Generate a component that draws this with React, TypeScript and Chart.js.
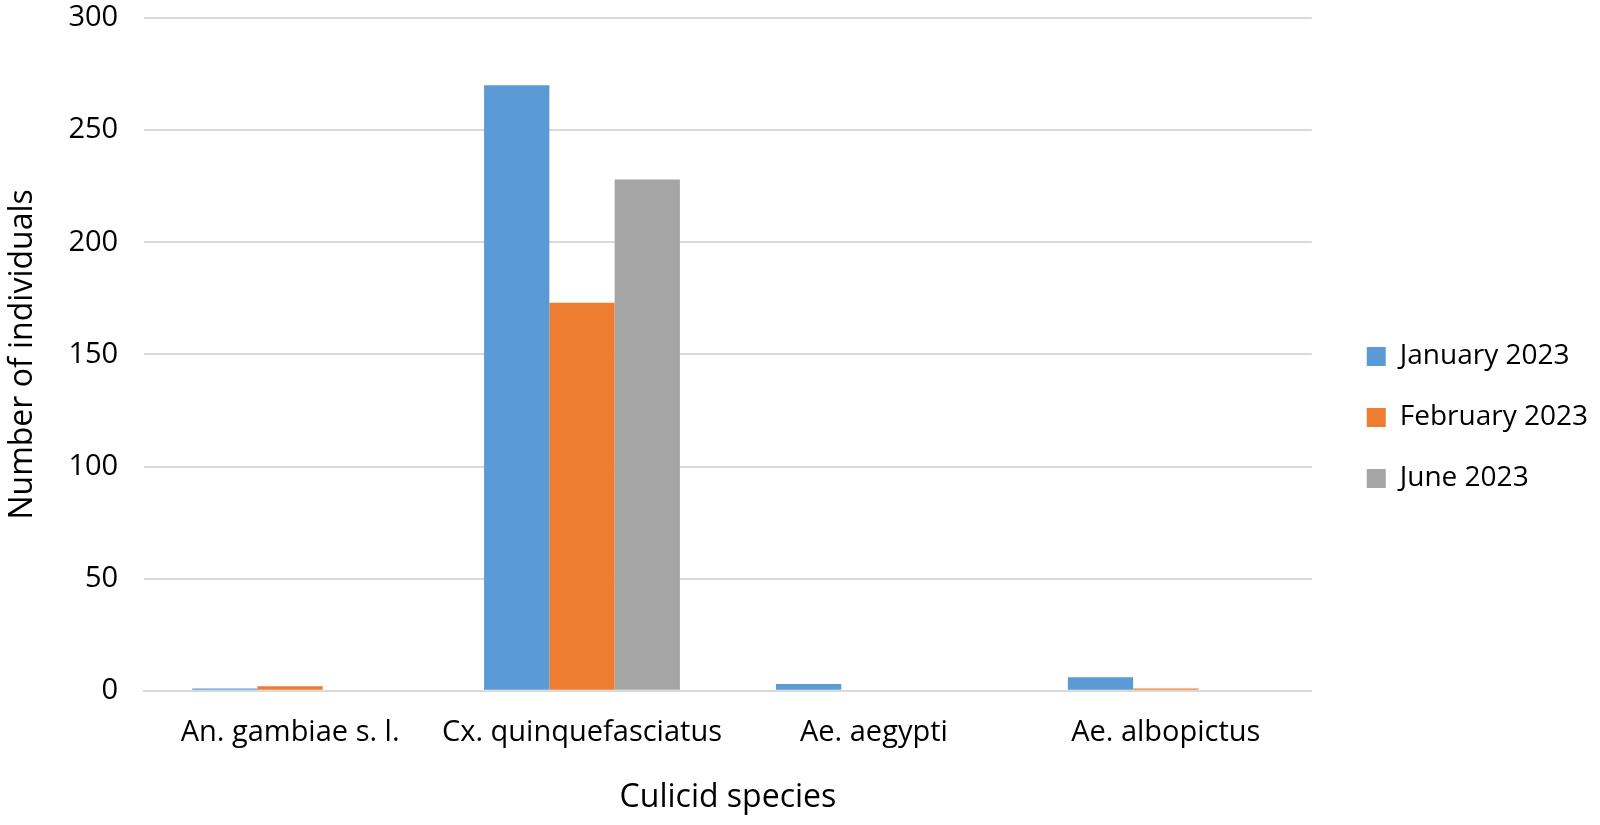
import React, { useEffect, useRef } from "react";
import { Chart, registerables } from "chart.js";

Chart.register(...registerables);

const categories = ["An. gambiae s. l.", "Cx. quinquefasciatus", "Ae. aegypti", "Ae. albopictus"];
const january2023 = [1, 270, 3, 6];
const february2023 = [2, 173, 0, 1];
const june2023 = [0, 228, 0, 0];
const seriesLabels = ["January 2023", "February 2023", "June 2023"];
const seriesColors = ["#5b9bd5", "#ed7d31", "#a5a5a5"];
const yTicks = [0, 50, 100, 150, 200, 250, 300];

const FONT = "'Open Sans', 'Noto Sans', sans-serif";

export default function App() {
  const ref = useRef<HTMLCanvasElement | null>(null);
  useEffect(() => {
    if (!ref.current) return;
    const chart = new Chart(ref.current, {
      type: "bar",
      data: {
        labels: categories,
        datasets: [january2023, february2023, june2023].map((d, i) => ({
          label: seriesLabels[i],
          data: d,
          backgroundColor: seriesColors[i],
          borderWidth: 0,
          categoryPercentage: 0.671,
          barPercentage: 1,
          yAxisID: "y",
        })),
      },
      options: {
        animation: false,
        responsive: true,
        maintainAspectRatio: false,
        layout: { padding: { top: 18, right: 2, bottom: 8, left: -4 } },
        plugins: {
          legend: {
            position: "right",
            align: "center",
            labels: {
              font: { family: FONT, size: 28 },
              color: "#000",
              boxWidth: 19,
              boxHeight: 19,
              padding: 33,
            },
          },
          tooltip: { enabled: false },
        },
        scales: {
          x: {
            grid: { display: false, drawTicks: false },
            border: { color: "#d9d9d9", width: 2 },
            ticks: { font: { family: FONT, size: 29 }, color: "#000", padding: 25 },
            title: {
              display: true,
              text: "Culicid species",
              font: { family: FONT, size: 32 },
              color: "#000",
              padding: { top: 3, bottom: 0 },
            },
          },
          y: {
            min: 0,
            max: 300,
            afterBuildTicks: (axis: any) => {
              axis.ticks = yTicks.map((v) => ({ value: v }));
            },
            afterFit: (s: any) => {
              s.paddingTop = 0;
              s.paddingBottom = 0;
            },
            grid: { color: "#d9d9d9", lineWidth: 2, drawTicks: false },
            border: { display: false },
            ticks: { font: { family: FONT, size: 29 }, color: "#000", padding: 26 },
            title: {
              display: true,
              text: "Number of individuals",
              font: { family: FONT, size: 32 },
              color: "#000",
              padding: { top: 8, bottom: 0 },
            },
          },
          gap: {
            type: "linear",
            position: "right",
            display: true,
            grid: { display: false, drawTicks: false },
            border: { display: false },
            ticks: { display: false },
            afterFit: (s: any) => {
              s.width = 22;
              s.paddingTop = 0;
              s.paddingBottom = 0;
            },
          },
        },
      },
    });
    return () => chart.destroy();
  }, []);
  return (
    <div style={{ position: "fixed", left: 0, top: 0, width: 1600, height: 825, background: "#fff" }}>
      <canvas ref={ref} />
    </div>
  );
}
